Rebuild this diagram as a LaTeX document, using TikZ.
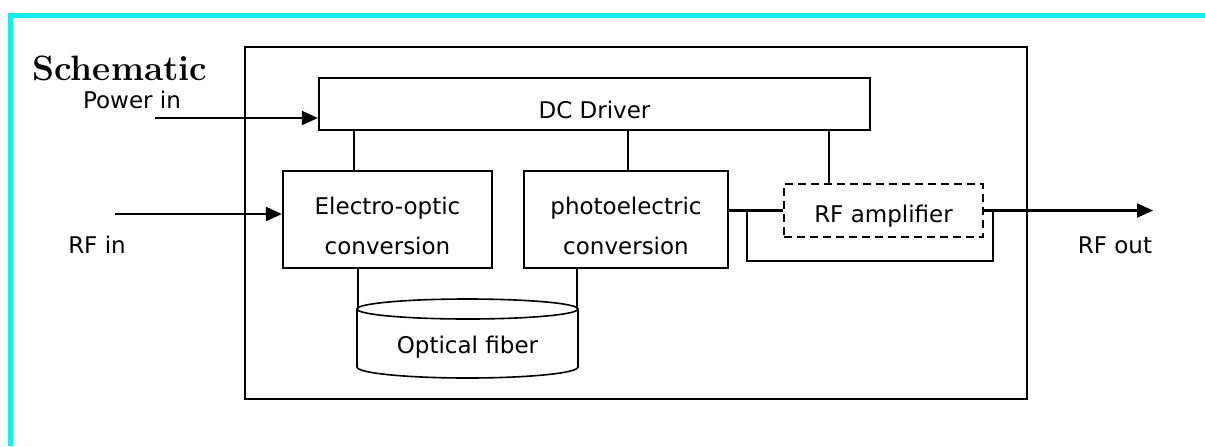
\documentclass[tikz,border=0pt]{standalone}
\usepackage{fontspec}
\newfontfamily\labelfont{DejaVu Sans}
\usetikzlibrary{arrows.meta, positioning}
\definecolor{framecyan}{RGB}{20,238,238}

\begin{document}
\begin{tikzpicture}[
        x=0.5pt, y=-0.5pt,
        % styles for the blocks
        block/.style={
            rectangle,
            draw,
            line width=1.1pt,
            inner sep=0pt
        },
        ampbox/.style={
            block,
            dash pattern=on 4pt off 2.5pt
        },
        label_text/.style={
            inner sep=0pt,
            align=center,
            font=\labelfont\fontsize{11.5}{20}\selectfont
        },
        inside/.style={label={[label_text, yshift=-3pt]center:#1}},
        arrow/.style={
            -{Triangle[length=8pt, width=7pt]},
            line width=1.1pt
        },
        wire/.style={line width=1.1pt},
        tap/.style={line width=0.6pt}
    ]
    \useasboundingbox (0,0) rectangle (1205,446);

    % --- frame ---
    \draw[framecyan, line width=2.6pt] (10.5,446) -- (10.5,15.5) -- (1205,15.5);
    \node[anchor=west, inner sep=0pt, font=\bfseries\fontsize{17.6}{20}\selectfont] (title) at (32,68) {Schematic};
    \draw[line width=1.1pt] (245,47) rectangle (1027,399);

    % --- 1. blocks ---
    \node[block, minimum width=275.5pt, minimum height=26pt, inside={DC Driver}] (dc) at (594.5,104) {};
    \node[block, minimum width=104.5pt, minimum height=48.5pt, inside={Electro-optic\\conversion}] (eo) at (387.5,219.5) {};
    \node[block, minimum width=102pt, minimum height=48.5pt, inside={photoelectric\\conversion}] (pe) at (626,219.5) {};
    \node[ampbox, minimum width=99.5pt, minimum height=26.5pt, inside={RF amplifier}] (amp) at (883.5,210.5) {};

    % optical fiber (cylinder)
    \coordinate (ftl) at (357,309);
    \coordinate (ftr) at (578,309);
    \draw[line width=0.8pt] (467.5,309) ellipse [x radius=110.5, y radius=10];
    \draw[line width=0.8pt] (ftl) -- (357,367) arc[start angle=180, end angle=0, x radius=110.5, y radius=11] -- (ftr);
    \node[label_text] (fiber) at (467.5,347) {Optical fiber};

    % outside labels
    \node[label_text] (pwrlabel) at (132,100) {Power in};
    \node[label_text] (rfinlabel) at (97,245) {RF in};
    \node[label_text] (rfoutlabel) at (1115,245) {RF out};
    \coordinate (pwr) at (155,118);
    \coordinate (rfin) at (115,214);
    \coordinate (rfout) at (1153,0 |- amp.east);

    % --- 2. connectors ---
    \draw[arrow] (pwr) -- (pwr -| dc.west);
    \draw[arrow] (rfin) -- (rfin -| eo.west);

    \draw[tap] (354,0 |- dc.south) -- (354,0 |- eo.north);
    \draw[tap] (628,0 |- dc.south) -- (628,0 |- pe.north);
    \draw[tap] (829,0 |- dc.south) -- (829,0 |- amp.north);

    \draw[tap] (358,0 |- eo.south) -- (358,0 |- ftl);
    \draw[tap] (577,0 |- pe.south) -- (577,0 |- ftr);

    \draw[wire] (pe.east |- amp.west) -- (amp.west);
    \draw[arrow] (amp.east) -- (rfout);
    \draw[wire] (747,0 |- amp.west) -- (747,261) -- (993,261) -- (993,0 |- amp.west);

\end{tikzpicture}
\end{document}
